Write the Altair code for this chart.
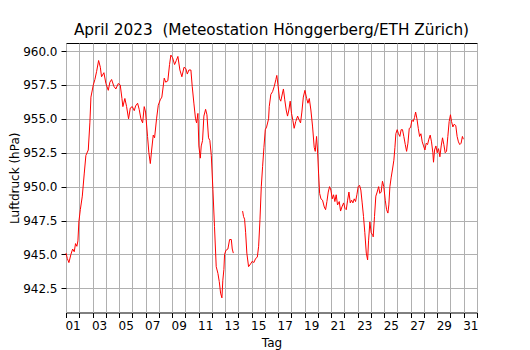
import altair as alt
import pandas as pd

# --- data (day of April as fractional days since 1 April 00:00) ---
days_a = [0.0, 0.1, 0.22, 0.37, 0.5, 0.62, 0.72, 0.82, 0.9, 0.97, 1.08, 1.23, 1.38, 1.5, 1.68, 1.8, 1.88,
          2.06, 2.18, 2.31, 2.46, 2.59, 2.68, 2.86, 3.01, 3.19, 3.31, 3.44, 3.61, 3.76, 3.94, 4.09, 4.22,
          4.29, 4.44, 4.57, 4.72, 4.85, 5.0, 5.15, 5.25, 5.4, 5.52, 5.65, 5.78, 5.9, 6.0, 6.15, 6.25, 6.36,
          6.46, 6.58, 6.68, 6.83, 6.96, 7.11, 7.23, 7.41, 7.52, 7.68, 7.81, 7.91, 8.04, 8.19, 8.32, 8.44,
          8.59, 8.74, 8.9, 9.04, 9.15, 9.27, 9.42, 9.52, 9.65, 9.77, 9.85, 9.95, 10.02, 10.13, 10.2, 10.3,
          10.4, 10.53, 10.63, 10.75, 10.85, 10.96, 11.08, 11.2, 11.33, 11.46, 11.56, 11.66, 11.76, 11.83,
          11.91, 11.96, 12.06, 12.21, 12.34, 12.47, 12.54, 12.62]
pres_a = [945.1, 944.7, 944.4, 945.0, 945.4, 945.2, 945.8, 945.6, 946.0, 947.4, 948.3, 949.3, 951.0, 952.3,
          952.7, 954.7, 956.6, 957.5, 957.9, 958.5, 959.3, 958.8, 958.1, 958.4, 957.6, 957.1, 957.7, 957.9,
          957.4, 957.2, 957.6, 957.5, 956.5, 955.9, 956.5, 955.9, 955.0, 955.8, 955.9, 955.6, 955.95, 956.15,
          955.7, 955.0, 954.7, 955.9, 955.5, 953.7, 952.5, 951.7, 952.7, 953.8, 953.6, 955.0, 956.0, 956.4,
          956.6, 958.0, 957.7, 957.8, 959.0, 959.7, 959.5, 959.0, 959.3, 959.6, 958.6, 958.1, 958.8, 958.7,
          958.3, 958.6, 958.6, 957.4, 956.1, 955.0, 954.7, 955.4, 953.0, 952.1, 953.0, 953.4, 955.2, 955.7,
          955.3, 953.6, 953.4, 952.3, 949.8, 947.05, 944.1, 943.6, 943.0, 942.15, 941.8, 943.1, 943.9, 945.0,
          945.3, 945.4, 946.1, 946.1, 945.4, 945.1]

days_b = [13.32, 13.39, 13.47, 13.55, 13.64, 13.77, 13.92, 14.05, 14.17, 14.3, 14.43, 14.53, 14.63, 14.73,
          14.83, 14.93, 15.03, 15.13, 15.28, 15.33, 15.45, 15.58, 15.71, 15.83, 15.9, 16.0, 16.1, 16.2, 16.33,
          16.4, 16.5, 16.61, 16.71, 16.81, 16.91, 17.01, 17.11, 17.21, 17.33, 17.47, 17.59, 17.69, 17.79, 17.9,
          18.02, 18.15, 18.25, 18.35, 18.47, 18.6, 18.72, 18.8, 18.9, 18.97, 19.05, 19.13, 19.23, 19.35, 19.48,
          19.58, 19.68, 19.78, 19.88, 19.98, 20.08, 20.18, 20.28, 20.38, 20.48, 20.61, 20.71, 20.81, 20.94,
          21.04, 21.14, 21.24, 21.34, 21.44, 21.54, 21.64, 21.74, 21.84, 21.94, 22.04, 22.14, 22.24, 22.34,
          22.44, 22.54, 22.65, 22.75, 22.82, 22.92, 23.02, 23.14, 23.17, 23.27, 23.37, 23.47, 23.58, 23.67,
          23.77, 23.87, 23.97, 24.08, 24.18, 24.28, 24.35, 24.43, 24.53, 24.63, 24.73, 24.81, 24.88, 24.98,
          25.08, 25.18, 25.28, 25.38, 25.48, 25.59, 25.69, 25.79, 25.89, 25.99, 26.09, 26.19, 26.29, 26.37,
          26.47, 26.57, 26.67, 26.77, 26.87, 26.97, 27.07, 27.17, 27.27, 27.37, 27.47, 27.57, 27.67, 27.72,
          27.8, 27.9, 28.0, 28.1, 28.2, 28.3, 28.4, 28.5, 28.6, 28.7, 28.8, 28.9, 29.0, 29.08, 29.18, 29.28,
          29.4, 29.5, 29.6, 29.7, 29.8, 29.9, 29.97]
pres_b = [948.2, 947.8, 947.6, 946.6, 945.1, 944.1, 944.3, 944.5, 944.4, 944.7, 944.8, 945.6, 947.55, 950.0,
          951.5, 952.9, 954.2, 954.4, 955.0, 955.9, 956.8, 957.0, 957.4, 957.9, 958.2, 957.4, 956.5, 956.3,
          956.9, 957.2, 956.4, 955.65, 955.2, 955.65, 956.3, 955.4, 954.9, 954.3, 954.8, 955.2, 954.9, 954.7,
          955.5, 956.6, 957.1, 956.5, 956.15, 956.5, 955.65, 954.4, 952.9, 952.6, 953.7, 952.7, 951.0, 949.5,
          949.1, 949.0, 948.5, 948.3, 948.9, 949.6, 950.0, 949.75, 949.1, 949.4, 948.9, 949.4, 948.65, 948.9,
          948.2, 948.5, 948.8, 948.4, 948.3, 949.0, 949.6, 948.8, 949.0, 948.8, 949.1, 948.9, 949.4, 950.0,
          950.1, 949.75, 948.8, 947.8, 946.6, 945.1, 944.6, 946.0, 947.4, 946.6, 946.4, 946.3, 947.8, 949.3,
          949.6, 950.0, 949.5, 949.6, 950.4, 950.0, 949.0, 948.3, 948.05, 948.65, 950.0, 950.7, 951.3, 951.95,
          952.9, 953.9, 954.2, 953.9, 953.7, 954.2, 954.2, 953.7, 953.1, 952.6, 953.2, 954.3, 954.35, 954.9,
          954.8, 955.1, 955.5, 955.0, 954.3, 953.7, 953.9, 953.3, 953.0, 952.7, 953.2, 953.1, 953.5, 953.8,
          953.3, 952.5, 951.8, 952.7, 953.0, 952.5, 952.8, 952.2, 953.0, 953.6, 953.1, 952.5, 952.6, 953.7,
          954.8, 955.3, 954.8, 954.4, 954.6, 954.5, 953.7, 953.3, 953.1, 953.2, 953.7, 953.5]

y_ticks = [942.5, 945.0, 947.5, 950.0, 952.5, 955.0, 957.5, 960.0]
x_ticks = list(range(0, 32))

title_text = "April 2023\u00a0 (Meteostation Hönggerberg/ETH Zürich)"
x_title = "Tag"
y_title = "Luftdruck (hPa)"

df = pd.DataFrame({
    "tag": days_a + days_b,
    "p": pres_a + pres_b,
    "seg": ["a"] * len(days_a) + ["b"] * len(days_b),
})

FONT = "DejaVu Sans"
W, H = 411, 269.5

label_expr = ("datum.value % 2 == 0 && datum.value < 31 ? "
              "((datum.value + 1) < 10 ? '0' + (datum.value + 1) : '' + (datum.value + 1)) : ''")

chart = alt.Chart(df).mark_line(color="#ff0000", strokeWidth=1).encode(
    x=alt.X("tag:Q",
            scale=alt.Scale(domain=[0, 31], nice=False, zero=False),
            axis=alt.Axis(values=x_ticks, title=x_title, labelExpr=label_expr,
                          labelOffset=6.6, labelFlush=False, labelOverlap=False,
                          tickSize=5, labelPadding=3,
                          titleX=W / 2, titleY=34, titleAlign="center",
                          titleBaseline="alphabetic")),
    y=alt.Y("p:Q",
            scale=alt.Scale(domain=[940.72, 960.59], nice=False, zero=False),
            axis=alt.Axis(values=y_ticks, format=".1f", title=y_title,
                          tickSize=5, labelPadding=4, labelOverlap=False, labelFlush=False,
                          titleX=-51.5, titleY=H / 2, titleAngle=270, titleAlign="center",
                          titleBaseline="middle")),
    detail="seg:N",
).properties(
    width=W, height=H,
    title=alt.TitleParams(text=title_text, font=FONT, fontSize=15.3, fontWeight="normal",
                          color="black", anchor="middle", frame="group", offset=8,
                          baseline="alphabetic", dy=15),
    autosize=alt.AutoSizeParams(type="none"),
    padding={"left": 58, "top": 35, "right": 30, "bottom": 42},
).configure_view(
    stroke="black", strokeWidth=1
).configure_axis(
    domain=False, grid=True, gridColor="#b0b0b0", gridWidth=1, gridOpacity=1,
    tickColor="black", tickWidth=1,
    labelColor="black", labelFont=FONT, labelFontSize=12,
    titleColor="black", titleFont=FONT, titleFontSize=12, titleFontWeight="normal",
)

chart.save("out.html", embed_options={"renderer": "svg", "actions": False})
